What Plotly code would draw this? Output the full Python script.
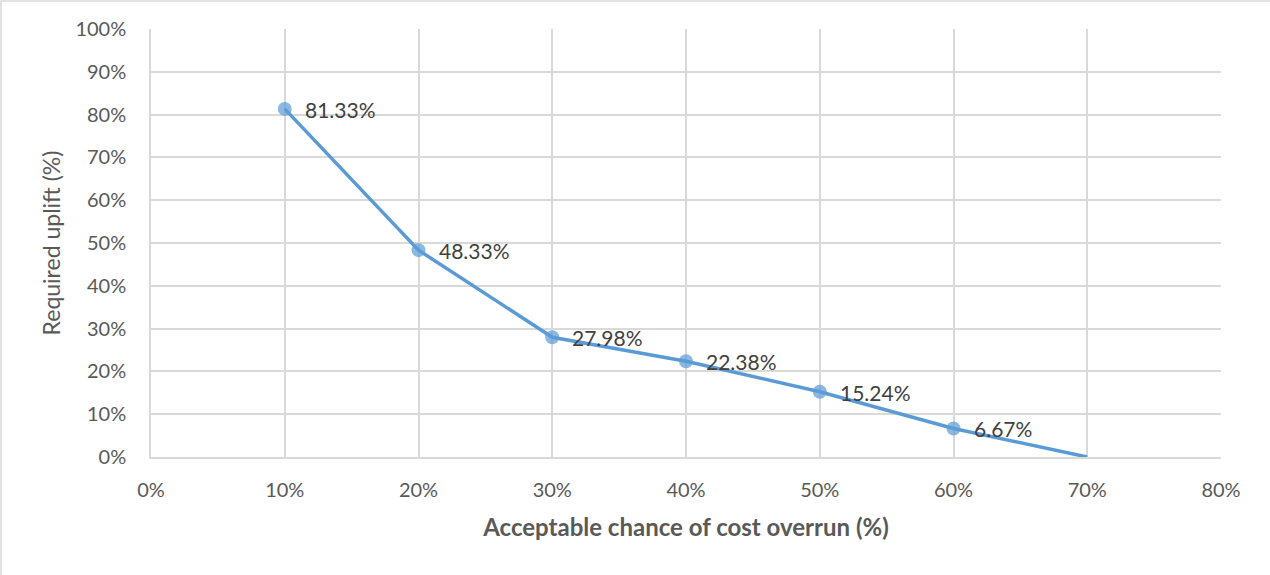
import plotly.graph_objects as go

# Acceptable chance of cost overrun vs. required uplift (both in %)
chance_pct = [10, 20, 30, 40, 50, 60, 70]
uplift_pct = [81.33, 48.33, 27.98, 22.38, 15.24, 6.67, 0.0]
show_marker = [True, True, True, True, True, True, False]

x_ticks = [0, 10, 20, 30, 40, 50, 60, 70, 80]
y_ticks = [0, 10, 20, 30, 40, 50, 60, 70, 80, 90, 100]

LINE = "#5B9BD5"
GRID = "#D9D9D9"
TICK = "#595959"
LABEL = "#404040"
FONT = "Lato, 'Open Sans', sans-serif"

W, H = 1270, 575
ML, MR, MT, MB = 151, 49, 29, 118
PW, PH = W - ML - MR, H - MT - MB

fig = go.Figure()
fig.add_trace(go.Scatter(
    x=chance_pct,
    y=uplift_pct,
    mode="lines+markers",
    line=dict(color=LINE, width=3.5),
    marker=dict(color=LINE, size=[14 if s else 0 for s in show_marker],
                line=dict(width=0)),
    hoverinfo="skip",
    showlegend=False,
))

for xv, yv, s in zip(chance_pct, uplift_pct, show_marker):
    if s:
        fig.add_annotation(
            x=xv, y=yv, text=f"{yv:.2f}%", showarrow=False,
            xanchor="left", yanchor="middle", xshift=18, yshift=-0.5,
            font=dict(family=FONT, size=21, color=LABEL),
        )

# outer chart border (top and left edges fall inside the page)
fig.add_shape(
    type="rect", xref="paper", yref="paper",
    x0=(1 - ML) / PW, x1=(W + 5 - ML) / PW,
    y0=-(H + 5 - MT - PH) / PH, y1=1 + (MT - 1) / PH,
    line=dict(color=GRID, width=1.5), fillcolor="rgba(0,0,0,0)", layer="below",
)

fig.update_layout(
    width=W, height=H,
    margin=dict(l=ML, r=MR, t=MT, b=MB, pad=0),
    paper_bgcolor="white", plot_bgcolor="white",
    font=dict(family=FONT, color=TICK, size=20),
    xaxis=dict(
        range=[0, 80], tickvals=x_ticks, ticktext=[f"{v}%" for v in x_ticks],
        showgrid=True, gridcolor=GRID, gridwidth=1.5,
        showline=True, linecolor=GRID, linewidth=1.5, mirror=False,
        zeroline=False, ticks="", ticklabelstandoff=14,
        tickfont=dict(family=FONT, size=20, color=TICK),
        title=dict(text="<b>Acceptable chance of cost overrun (%)</b>", standoff=19,
                   font=dict(family=FONT, size=24, color=TICK)),
    ),
    yaxis=dict(
        range=[0, 100], tickvals=y_ticks, ticktext=[f"{v}%" for v in y_ticks],
        showgrid=True, gridcolor=GRID, gridwidth=1.5,
        showline=True, linecolor=GRID, linewidth=1.5,
        zeroline=False, ticks="", ticklabelstandoff=19,
        tickfont=dict(family=FONT, size=20, color=TICK),
        title=dict(text="Required uplift (%)", standoff=8,
                   font=dict(family=FONT, size=23, color=TICK)),
    ),
)

fig.write_html("out.html")
